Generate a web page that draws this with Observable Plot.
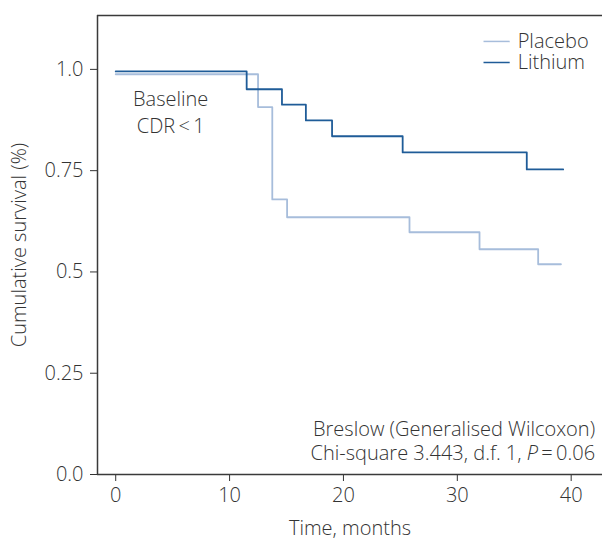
<!DOCTYPE html>
<html>
<head>
<meta charset="utf-8">
<script src="https://cdn.jsdelivr.net/npm/d3@7"></script>
<script src="https://cdn.jsdelivr.net/npm/@observablehq/plot@0.6"></script>
<style>
  html, body { margin: 0; padding: 0; background: #fff; }
  #chart svg { display: block; }
</style>
</head>
<body>
<div id="chart"></div>
<script>
// Groups
const groups = ["Placebo", "Lithium"];
const groupColors = ["#a7bddb", "#1f5c98"];

// Kaplan–Meier step data (time in months, cumulative survival)
const placeboTimes = [0, 12.5, 13.75, 15.05, 25.8, 31.95, 37.1, 39.1];
const placeboSurv  = [0.988, 0.907, 0.679, 0.635, 0.598, 0.556, 0.519, 0.519];
const lithiumTimes = [0, 11.5, 14.6, 16.7, 19.0, 25.2, 36.1, 39.3];
const lithiumSurv  = [0.995, 0.951, 0.913, 0.874, 0.835, 0.795, 0.753, 0.753];

// Axis ticks
const xTicks = [0, 10, 20, 30, 40];
const yTicks = [0, 0.25, 0.5, 0.75, 1.0];
const yTickLabels = ["0.0", "0.25", "0.5", "0.75", "1.0"];

// Texts
const xLabel = "Time, months";
const yLabel = "Cumulative survival (%)";
const panelNote = ["Baseline", "CDR\u2009<\u20091"];
const testNote = ["Breslow (Generalised Wilcoxon)", "Chi-square 3.443, d.f. 1, P\u2009=\u20090.06"];

const xDomain = [-1.6, 42.75];
const yDomain = [0, 1.133];

const rows = [
  ...placeboTimes.map((t, i) => ({group: groups[0], t, s: placeboSurv[i]})),
  ...lithiumTimes.map((t, i) => ({group: groups[1], t, s: lithiumSurv[i]}))
];

const legendRows = groups.map((g, i) => ({group: g, y: [1.069, 1.017][i]}));

const axisColor = "#3a3a3a";
const textColor = "#333";

const plot = Plot.plot({
  width: 603,
  height: 540,
  marginLeft: 97,
  marginTop: 15,
  marginRight: 1,
  marginBottom: 66,
  style: {fontFamily: "'Open Sans', sans-serif", fontSize: "20px", fontWeight: 300, color: textColor, background: "#fff"},
  x: {domain: xDomain, ticks: xTicks, tickSize: 7, tickPadding: 6, label: xLabel, labelAnchor: "center", labelArrow: "none", labelOffset: 60},
  y: {domain: yDomain, ticks: yTicks, tickSize: 7, tickPadding: 7, tickFormat: (d) => yTickLabels[yTicks.indexOf(d)], label: yLabel, labelAnchor: "center", labelArrow: "none", labelOffset: 86},
  color: {domain: groups, range: groupColors},
  marks: [
    Plot.ruleY([0], {stroke: axisColor, strokeWidth: 1.5}),
    Plot.ruleY([yDomain[1]], {stroke: axisColor, strokeWidth: 1.5}),
    Plot.ruleX([xDomain[0]], {stroke: axisColor, strokeWidth: 1.5}),
    Plot.line(rows, {x: "t", y: "s", z: "group", stroke: "group", curve: "step-after", strokeWidth: 1.8}),
    Plot.link(legendRows, {x1: 32.3, x2: 34.6, y1: "y", y2: "y", stroke: "group", strokeWidth: 1.5}),
    Plot.text([groups.join("\n")], {x: 35.3, y: 1.043, text: (d) => d, textAnchor: "start", lineHeight: 1.05, fill: textColor}),
    Plot.text(panelNote, {x: 4.83, y: (d, i) => [0.926, 0.859][i], text: (d) => d, fill: textColor}),
    Plot.text([testNote.join("\n")], {x: 42.1, y: 0.0838, text: (d) => d, textAnchor: "end", lineHeight: 1.2, fill: textColor})
  ]
});

// italicise the P in the test note
d3.select(plot).selectAll("text").each(function () {
  const el = d3.select(this);
  const tspans = el.selectAll("tspan");
  const nodes = tspans.empty() ? [this] : tspans.nodes();
  nodes.forEach((n) => {
    const txt = n.textContent;
    if (txt === testNote[1]) {
      const k = txt.indexOf("P\u2009=");
      const sel = d3.select(n);
      sel.text(null);
      sel.append("tspan").text(txt.slice(0, k));
      sel.append("tspan").attr("font-style", "italic").text("P");
      sel.append("tspan").text(txt.slice(k + 1));
    }
  });
});

document.getElementById("chart").appendChild(plot);
</script>
</body>
</html>
